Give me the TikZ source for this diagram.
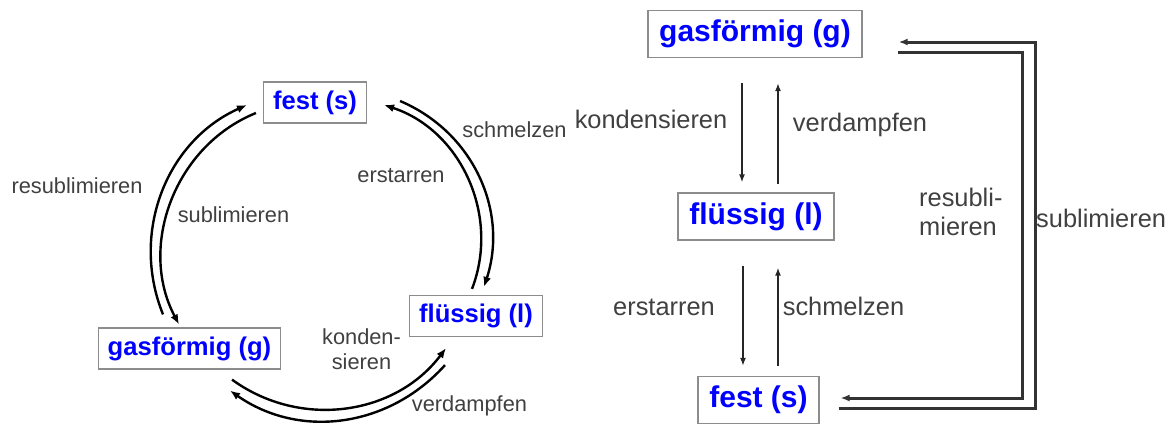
\documentclass[tikz,border=0pt]{standalone}
\usepackage{fontspec}
\setmainfont{Liberation Sans}
\usetikzlibrary{arrows.meta}
\tikzset{
    phase/.style={
        draw=black!45,
        line width=1.2pt,
        text=blue,
        inner ysep=0pt
    },
    phase left/.style={phase, font=\bfseries\fontsize{25.6}{30}\selectfont,
        inner xsep=9.5pt, minimum height=41pt},
    phase right/.style={phase, font=\bfseries\fontsize{30}{36}\selectfont,
        inner xsep=11.25pt, minimum height=47pt},
    change left/.style={text=black!75, inner sep=0pt, anchor=base,
        font=\fontsize{21.8}{25}\selectfont},
    change right/.style={text=black!75, inner sep=0pt, anchor=base,
        font=\fontsize{25.4}{29.3}\selectfont},
    cycle arrow/.style={line width=2.4pt, -{Latex[length=10pt,width=8pt]}},
    updown arrow/.style={line width=2pt, black!85, -{Latex[length=8pt,width=6pt]}},
    detour arrow/.style={line width=3pt, black!80, -{Latex[length=9pt,width=7pt]}}
}
\begin{document}
\begin{tikzpicture}[x=1pt,y=1pt]
    \useasboundingbox (0,0) rectangle (1175,-424);

    % the cycle
    \node[phase left] (festL) at (315,-102.5) {fest (s)};
    \node[phase left] (gasL) at (189.5,-348.5) {gasförmig (g)};
    \node[phase left] (flL) at (476,-316) {flüssig (l)};

    \draw[cycle arrow] ([shift={(-26.5,13)}]gasL.north) to[out=112,in=204] ([shift={(-16,-2.5)}]festL.west);
    \draw[cycle arrow] ([shift={(-7,-10.5)}]festL.west) to[out=202,in=118] ([shift={(-10.5,3)}]gasL.north);
    \draw[cycle arrow] ([shift={(-4,6)}]flL.north) to[out=69,in=-18] ([shift={(17,-2.5)}]festL.east);
    \draw[cycle arrow] ([shift={(33,1.5)}]festL.east) to[out=-23,in=72] ([shift={(8,8)}]flL.north);
    \draw[cycle arrow] ([shift={(42.5,-10)}]gasL.south) to[out=-36,in=233] ([shift={(-30,-11)}]flL.south);
    \draw[cycle arrow] ([shift={(-31,-28)}]flL.south) to[out=228,in=-35] ([shift={(40.5,-21)}]gasL.south);

    \node[change left] (resubL) at (77,-193) {resublimieren};
    \node[change left] (sublL) at (233.5,-222) {sublimieren};
    \node[change left] (erstL) at (401,-182) {erstarren};
    \node[change left] (schmL) at (514.5,-137) {schmelzen};
    \node[change left, anchor=center, align=center] (kondL) at (361.5,-349) {konden-\\sieren};
    \node[change left] (verdL) at (469.5,-411) {verdampfen};

    % the ladder
    \node[phase right] (gasR) at (755,-34) {gasförmig (g)};
    \node[phase right] (flR) at (756,-216.5) {flüssig (l)};
    \node[phase right] (festR) at (758.5,-400) {fest (s)};

    \draw[updown arrow] ([shift={(-13,-25)}]gasR.south) -- ([shift={(-14,10)}]flR.north);
    \draw[updown arrow] ([shift={(22,8)}]flR.north) -- ([shift={(23,-25)}]gasR.south);
    \draw[updown arrow] ([shift={(-13,-25)}]flR.south) -- ([shift={(-15.5,10)}]festR.north);
    \draw[updown arrow] ([shift={(19.5,10)}]festR.north) -- ([shift={(22,-27)}]flR.south);

    \draw[detour arrow] ([shift={(19,-8)}]festR.east) -- ++(197,0) |- ([shift={(36,-8)}]gasR.east);
    \draw[detour arrow] ([shift={(35,-18)}]gasR.east) -- ++(125,0) |- ([shift={(21,2)}]festR.east);

    \node[change right] (kondR) at (651,-128.3) {kondensieren};
    \node[change right] (verdR) at (860,-131.7) {verdampfen};
    \node[change right] (erstR) at (664,-315) {erstarren};
    \node[change right] (schmR) at (843.5,-315) {schmelzen};
    \node[change right, anchor=west, align=left] (resubR) at (919,-212) {resubli-\\mieren};
    \node[change right, anchor=base west] (sublR) at (1036,-227.3) {sublimieren};
\end{tikzpicture}
\end{document}
